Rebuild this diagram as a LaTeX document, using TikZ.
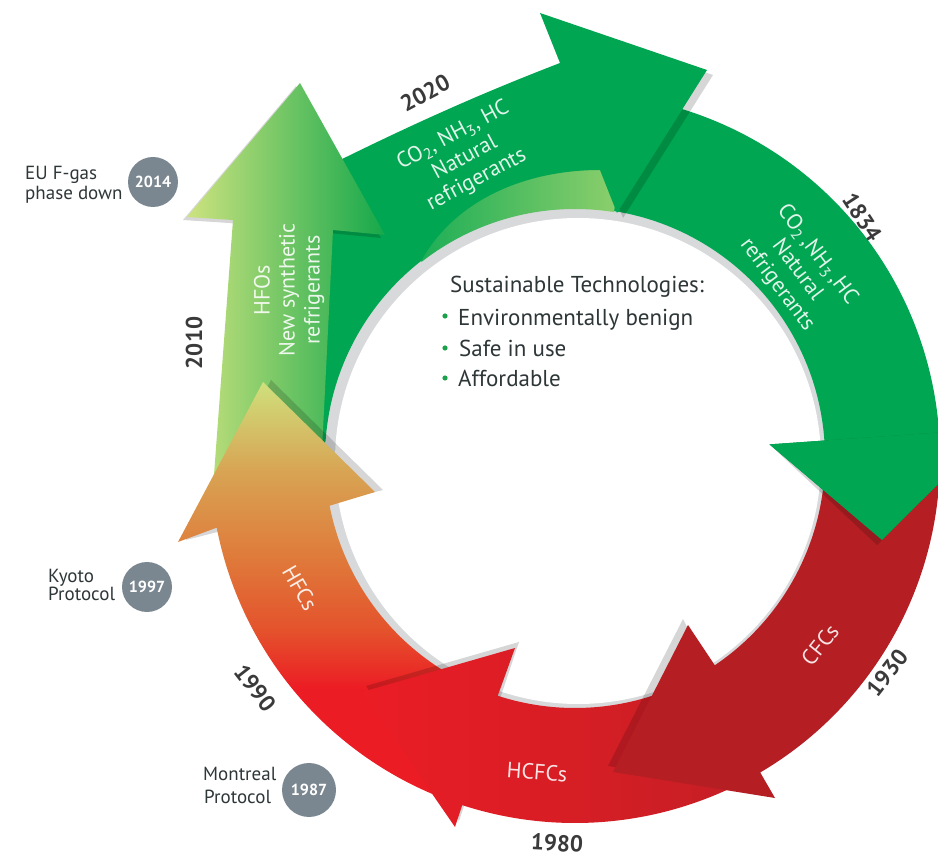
\documentclass[tikz,border=0pt]{standalone}
\usepackage{fontspec}
\setmainfont{PT Sans}
\usetikzlibrary{calc}
\definecolor{gmain}{HTML}{00A651}
\definecolor{glight}{HTML}{92D06D}
\definecolor{hfoL}{HTML}{CDE37F}
\definecolor{hfoR}{HTML}{15A84B}
\definecolor{hfcTop}{HTML}{CFE07C}
\definecolor{hfcTan}{HTML}{D8A353}
\definecolor{hfcOr}{HTML}{DF7B3B}
\definecolor{hfcMid}{HTML}{E4522C}
\definecolor{hfcBot}{HTML}{EC1C24}
\definecolor{hcfcL}{HTML}{EB1D25}
\definecolor{hcfcR}{HTML}{C41E25}
\definecolor{cfc}{HTML}{B51F24}
\definecolor{rimgray}{HTML}{D8D9DB}
\definecolor{yeartxt}{HTML}{3A3A3A}
\definecolor{darktxt}{HTML}{2E3638}
\definecolor{badgegray}{HTML}{7A8790}
\definecolor{bulletg}{HTML}{1BA14B}
\pgfdeclareverticalshading{hfcshade}{100bp}{color(0bp)=(hfcBot); color(38bp)=(hfcBot); color(45bp)=(hfcMid); color(54bp)=(hfcOr); color(64bp)=(hfcTan); color(75bp)=(hfcTop); color(100bp)=(hfcTop)}
\tikzset{
  yearlbl/.style={font=\fontsize{23}{23}\selectfont\bfseries, text=yeartxt, inner sep=0pt},
  bandtxt/.style={font=\fontsize{22}{25}\selectfont, text=white, text opacity=0.88, inner sep=0pt, align=center},
  sidetxt/.style={font=\fontsize{19}{19}\selectfont, text=darktxt, inner sep=0pt, anchor=base west},
  badge/.style={circle, fill=badgegray, minimum size=50pt, inner sep=0pt, text=white, font=\fontsize{16}{16}\selectfont\bfseries},
  centertxt/.style={font=\fontsize{23}{23}\selectfont, text=darktxt, inner sep=0pt, anchor=base west},
  headshadow/.style={fill=black, opacity=0.16},
}
\begin{document}
\begin{tikzpicture}[x=1pt,y=-1pt]
\useasboundingbox (0,0) rectangle (938,858);
\coordinate (C) at (575,458);
\begin{scope}
\clip (0,0) rectangle (938,858);
% inner disc with grey rim
\fill[rimgray] (C) circle[radius=252];
\fill[white] ($(C)+(3,3)$) circle[radius=243];
% 1834 band (green, right side)
\fill[gmain] ($(C)+(-100:365)$) arc[start angle=-100,end angle=-4,radius=365]
  -- ($(C)+(-4:420)$) -- (882,540) -- ($(C)+(-4:195)$) -- ($(C)+(-4:250)$)
  arc[start angle=-4,end angle=-100,radius=250] -- cycle;
% light tail under the 2020 arrow
\shade[left color=gmain, right color=glight] ($(C)+(-128:249)$) arc[start angle=-128,end angle=-81,radius=249]
  -- ($(C)+(-81:335)$) arc[start angle=-81,end angle=-128,radius=335] -- cycle;
% 2020 arrow
\fill[headshadow, shift={(6,5)}] (560,63) -- (540,13) -- (707,70) -- (617,213) -- (600,170) -- cycle;
\fill[gmain] (320,170) .. controls (420,120) and (490,90) .. (560,63) -- (540,13) -- (707,70) -- (617,213)
  -- (600,170) .. controls (525,170) and (455,200) .. ($(C)+(-128:250)$)
  arc[start angle=-128,end angle=-176,radius=250] -- (318,462) -- cycle;
% HFO arrow
\fill[headshadow, shift={(-4,3)}] (233,220) -- (187,217) -- (300,83) -- (385,235) -- (333,230) -- cycle;
\shade[left color=hfoL, right color=hfoR] (213,488) -- (233,220) -- (187,217) -- (300,83) -- (385,235)
  -- (333,230) -- (322,450) -- cycle;
% HFCs arrow
\fill[headshadow, shift={(8,-2)}] (375,492) -- (263,382) -- (178,542) -- cycle;
\shade[shading=hfcshade] ($(C)+(112:250)$) arc[start angle=112,end angle=169,radius=250]
  -- (375,492) -- (263,382) -- (178,542) -- ($(C)+(169:365)$) arc[start angle=169,end angle=112,radius=365] -- cycle;
% HCFCs arrow
\fill[headshadow, shift={(4,-6)}] (515,648) -- (362,692) -- (455,827) -- cycle;
\shade[left color=hcfcL, right color=hcfcR] ($(C)+(60:250)$) arc[start angle=60,end angle=108,radius=250]
  -- (515,648) -- (362,692) -- (455,827) -- ($(C)+(108:365)$) arc[start angle=108,end angle=60,radius=365] -- cycle;
% CFCs arrow
\fill[headshadow, shift={(-5,-6)}] (688,625) -- (613,772) -- (775,798) -- cycle;
\fill[cfc] ($(C)+(2:250)$) arc[start angle=2,end angle=56,radius=250]
  -- (688,625) -- (613,772) -- (775,798) -- ($(C)+(59.5:365)$) arc[start angle=59.5,end angle=2,radius=365] -- cycle;
% 1834 head again, on top of the CFCs tail
\fill[headshadow, shift={(-5,5)}] ($(C)+(-4:420)$) -- (882,540) -- ($(C)+(-4:195)$) -- cycle;
\fill[gmain] ($(C)+(-4:420)$) -- (882,540) -- ($(C)+(-4:195)$) -- cycle;
\end{scope}
% texts in the bands
\node[bandtxt, rotate=28] (t2020) at (465,158) {CO\textsubscript{2}, NH\textsubscript{3}, HC\\Natural\\refrigerants};
\node[bandtxt, rotate=-53] (t1834) at (797,270) {CO\textsubscript{2}\,,NH\textsubscript{3}\,,HC\\Natural\\refrigerants};
\node[bandtxt, rotate=90] (thfo) at (289,290) {HFOs\\New synthetic\\refrigerants};
\node[bandtxt, rotate=-60] (thfc) at (300,588) {HFCs};
\node[bandtxt, rotate=51] (tcfc) at (820,645) {CFCs};
\node[bandtxt, rotate=-4] (thcfc) at (537,772) {HCFCs};
% years
\node[yearlbl, rotate=28] (y2020) at (425,93) {2020};
\node[yearlbl, rotate=-57] (y1834) at (862,217) {1834};
\node[yearlbl, rotate=52] (y1930) at (887,673) {1930};
\node[yearlbl, rotate=-3] (y1980) at (557,843) {1980};
\node[yearlbl, rotate=-52] (y1990) at (255,688) {1990};
\node[yearlbl, rotate=90] (y2010) at (194,343) {2010};
% centre text
\node[centertxt] (st) at (450,293) {Sustainable Technologies:};
\node[centertxt] (b1) at (458,326) {Environmentally benign};
\node[centertxt] (b2) at (459,357) {Safe in use};
\node[centertxt] (b3) at (458,387) {Affordable};
\fill[bulletg] (445,316) circle[radius=2.6];
\fill[bulletg] (445,348) circle[radius=2.6];
\fill[bulletg] (445,378) circle[radius=2.6];
% side notes
\node[sidetxt] (eu1) at (25,180) {EU F-gas};
\node[sidetxt] (eu2) at (25,200) {phase down};
\node[badge] (b2014) at (153,182) {2014};
\node[sidetxt] (ky1) at (48,583) {Kyoto};
\node[sidetxt] (ky2) at (48,601) {Protocol};
\node[badge] (b1997) at (147,587) {1997};
\node[sidetxt] (mo1) at (203,780) {Montreal};
\node[sidetxt] (mo2) at (204,803) {Protocol};
\node[badge, minimum size=54pt] (b1987) at (309,790) {1987};
\end{tikzpicture}
\end{document}
